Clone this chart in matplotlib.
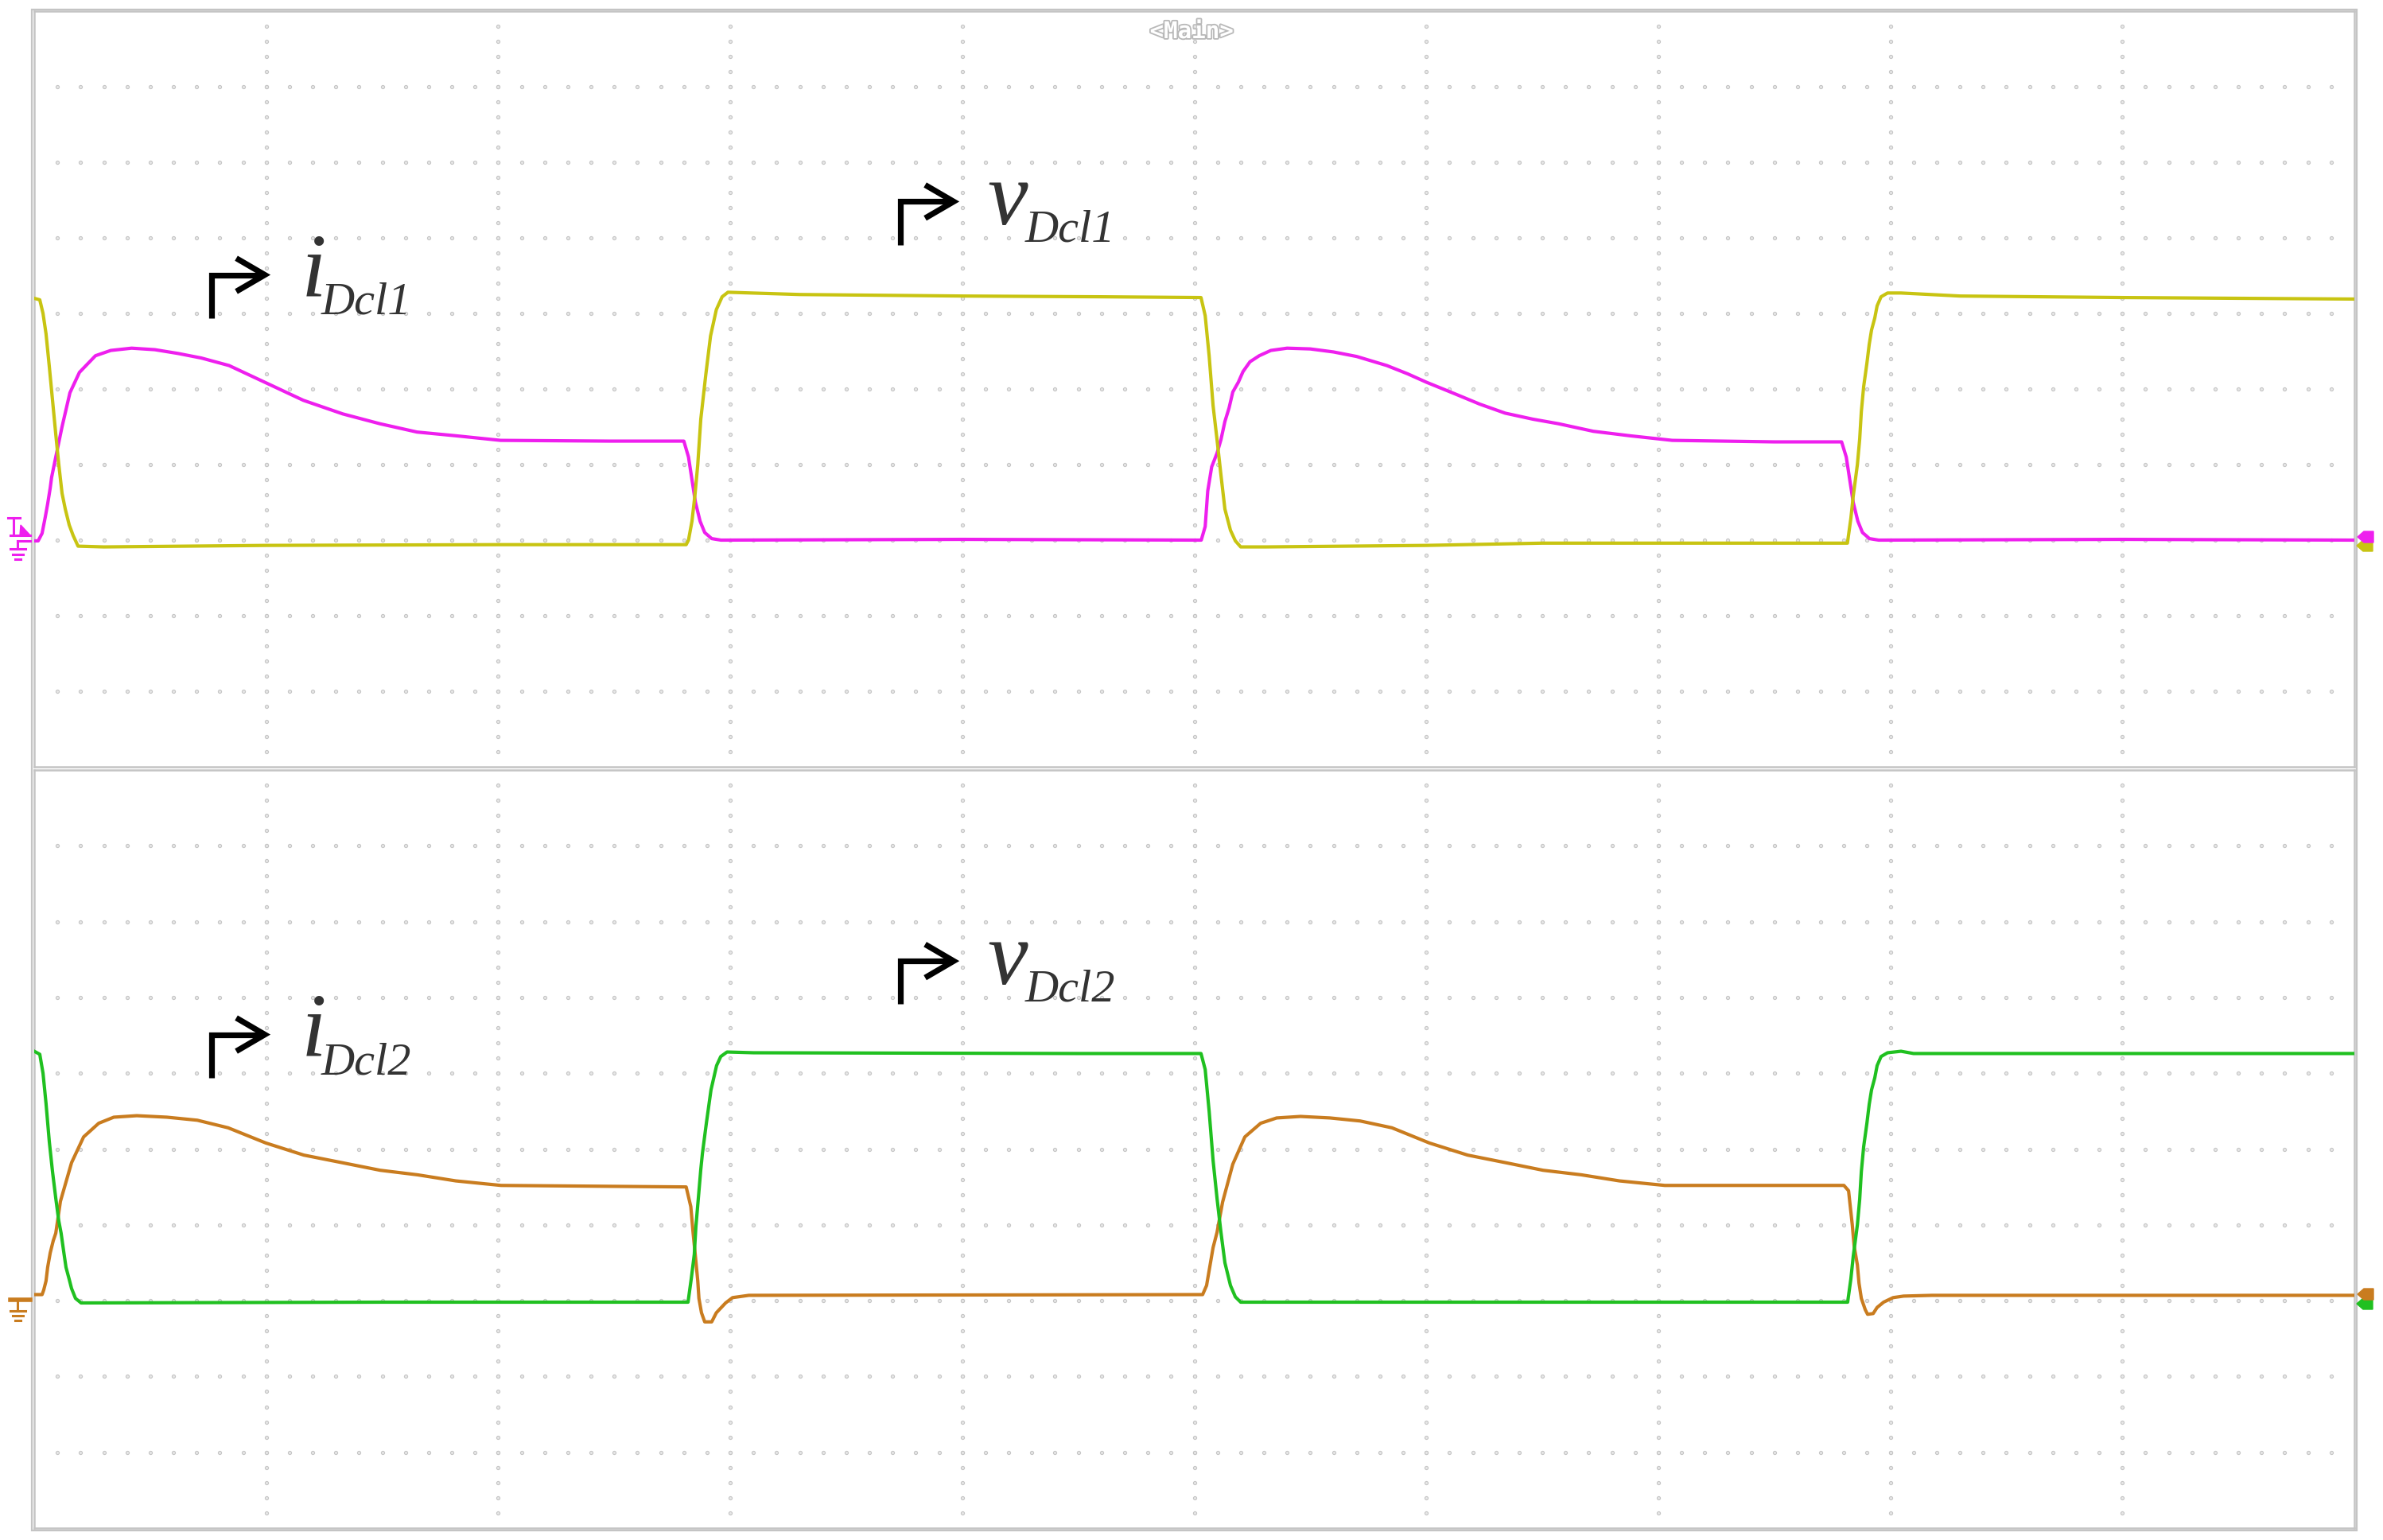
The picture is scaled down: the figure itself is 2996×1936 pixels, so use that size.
import numpy as np
import matplotlib.pyplot as plt
from matplotlib.patches import Polygon, Rectangle
import matplotlib.patheffects as pe

W, H, DPI = 2996, 1936, 100

# scope panes on screen (pixels: left, top, right, bottom)
TOP_PANE = (43, 14, 2960, 964)
BOT_PANE = (43, 968, 2960, 1921)

#%% data, in screen divisions (x: 0..10, y: 0..10 per pane)
# top pane: v_Dcl1 (yellow)
v1_t = [0.0, 0.024, 0.038, 0.051, 0.065, 0.079, 0.093, 0.106, 0.120, 0.134, 0.151, 0.168, 0.189, 0.30, 1.0, 2.0, 2.81,
        2.82, 2.835, 2.848, 2.86, 2.873, 2.895, 2.915, 2.94, 2.965, 2.99, 3.3, 4.0, 4.6, 5.029,
        5.047, 5.064, 5.081, 5.098, 5.115, 5.132, 5.156, 5.177, 5.20, 5.31, 6.0, 6.5, 7.3, 7.815,
        7.830, 7.840, 7.858, 7.868, 7.875, 7.885, 7.899, 7.909, 7.919, 7.933, 7.943, 7.960, 7.988, 8.046, 8.3, 9.0, 10.0]
v1_y = [6.20, 6.18, 6.00, 5.73, 5.30, 4.85, 4.40, 4.00, 3.62, 3.41, 3.20, 3.06, 2.92, 2.91, 2.93, 2.94, 2.94,
        3.00, 3.25, 3.60, 4.00, 4.60, 5.20, 5.70, 6.05, 6.22, 6.28, 6.25, 6.23, 6.22, 6.21,
        5.97, 5.44, 4.78, 4.33, 3.86, 3.41, 3.13, 2.99, 2.91, 2.91, 2.93, 2.96, 2.96, 2.96,
        3.29, 3.58, 4.00, 4.34, 4.70, 5.03, 5.34, 5.59, 5.78, 5.94, 6.10, 6.22, 6.27, 6.27, 6.23, 6.21, 6.19]

# top pane: i_Dcl1 (magenta)
i1_t = [0.0, 0.017, 0.034, 0.048, 0.058, 0.069, 0.075, 0.093, 0.120, 0.154, 0.195, 0.264, 0.33, 0.42, 0.52, 0.62,
        0.72, 0.84, 1.00, 1.16, 1.33, 1.49, 1.65, 1.82, 2.01, 2.48, 2.80,
        2.82, 2.835, 2.85, 2.87, 2.89, 2.92, 2.96, 4.0, 5.03,
        5.047, 5.058, 5.075, 5.098, 5.115, 5.132, 5.15, 5.166, 5.19, 5.21, 5.24, 5.28, 5.33, 5.40, 5.50, 5.60,
        5.70, 5.83, 5.92, 6.00, 6.12, 6.23, 6.34, 6.46, 6.57, 6.72, 6.88, 7.06, 7.50, 7.79,
        7.81, 7.825, 7.84, 7.86, 7.88, 7.91, 7.95, 9.0, 10.0]
i1_y = [2.99, 2.99, 3.09, 3.31, 3.48, 3.69, 3.83, 4.10, 4.50, 4.95, 5.22, 5.44, 5.51, 5.54, 5.52, 5.47,
        5.41, 5.31, 5.08, 4.85, 4.67, 4.54, 4.43, 4.38, 4.32, 4.31, 4.31,
        4.10, 3.80, 3.50, 3.25, 3.10, 3.02, 3.00, 3.01, 3.00,
        3.18, 3.65, 3.97, 4.15, 4.33, 4.57, 4.75, 4.96, 5.09, 5.23, 5.36, 5.44, 5.51, 5.54, 5.53, 5.49,
        5.43, 5.31, 5.20, 5.09, 4.94, 4.80, 4.68, 4.60, 4.54, 4.44, 4.38, 4.32, 4.30, 4.30,
        4.10, 3.80, 3.50, 3.25, 3.10, 3.02, 3.00, 3.01, 3.00]

# bottom pane: v_Dcl2 (green)
v2_t = [0.0, 0.024, 0.038, 0.051, 0.065, 0.079, 0.093, 0.106, 0.116, 0.127, 0.137, 0.151, 0.161, 0.178, 0.202, 1.5, 2.818,
        2.832, 2.845, 2.852, 2.863, 2.873, 2.880, 2.897, 2.917, 2.941, 2.959, 2.986, 3.10, 4.5, 5.029,
        5.047, 5.064, 5.081, 5.098, 5.115, 5.132, 5.156, 5.177, 5.20, 6.5, 7.816,
        7.830, 7.840, 7.858, 7.868, 7.875, 7.885, 7.899, 7.909, 7.919, 7.933, 7.943, 7.960, 7.988, 8.046, 8.10, 10.0]
v2_y = [6.29, 6.25, 6.00, 5.60, 5.10, 4.70, 4.35, 4.05, 3.89, 3.65, 3.44, 3.28, 3.16, 3.03, 2.97, 2.98, 2.98,
        3.29, 3.61, 3.98, 4.37, 4.73, 4.94, 5.34, 5.78, 6.10, 6.22, 6.28, 6.27, 6.26, 6.26,
        6.05, 5.50, 4.85, 4.35, 3.90, 3.50, 3.20, 3.05, 2.98, 2.98, 2.98,
        3.29, 3.58, 4.00, 4.34, 4.70, 5.03, 5.34, 5.59, 5.78, 5.94, 6.10, 6.22, 6.27, 6.29, 6.26, 6.26]

# bottom pane: i_Dcl2 (orange)
i2_t = [0.0, 0.034, 0.041, 0.051, 0.058, 0.069, 0.082, 0.093, 0.113, 0.161, 0.213, 0.278, 0.343, 0.442, 0.572,
        0.703, 0.836, 0.998, 1.162, 1.327, 1.491, 1.652, 1.817, 2.012, 2.81,
        2.83, 2.84, 2.85, 2.86, 2.865, 2.876, 2.89, 2.92, 2.94, 2.98, 3.01, 3.08, 5.036,
        5.053, 5.067, 5.081, 5.098, 5.122, 5.166, 5.218, 5.286, 5.355, 5.458, 5.585, 5.715, 5.852, 6.013,
        6.178, 6.342, 6.503, 6.668, 6.832, 7.028, 7.80,
        7.82, 7.826, 7.836, 7.844, 7.858, 7.865, 7.875, 7.892, 7.902, 7.926, 7.943, 7.971, 8.012, 8.057, 8.18, 10.0]
i2_y = [3.08, 3.08, 3.14, 3.26, 3.44, 3.63, 3.79, 3.89, 4.31, 4.82, 5.16, 5.34, 5.42, 5.44, 5.42,
        5.38, 5.28, 5.08, 4.92, 4.82, 4.72, 4.66, 4.58, 4.52, 4.50,
        4.24, 3.89, 3.58, 3.26, 3.03, 2.84, 2.72, 2.72, 2.84, 2.97, 3.04, 3.07, 3.08,
        3.20, 3.45, 3.70, 3.90, 4.30, 4.80, 5.16, 5.34, 5.41, 5.43, 5.41, 5.37, 5.28, 5.08,
        4.92, 4.82, 4.72, 4.66, 4.58, 4.52, 4.52,
        4.45, 4.28, 4.00, 3.72, 3.47, 3.23, 3.03, 2.88, 2.82, 2.83, 2.91, 2.98, 3.04, 3.06, 3.07, 3.07]

YELLOW = '#c8c412'
MAGENTA = '#ee1fee'
GREEN = '#20c020'
ORANGE = '#c97c1f'
GRID = '#c6c6c6'
FRAME = '#c4c4c4'
INK = '#333333'

fig = plt.figure(figsize=(W / DPI, H / DPI), dpi=DPI)

# full-screen overlay in pixel coords for the scope decorations
deco = fig.add_axes([0, 0, 1, 1])
deco.set_xlim(0, W)
deco.set_ylim(H, 0)
deco.axis('off')
deco.add_patch(Rectangle((40, 12), 2923, 1912, fill=False, ec=FRAME, lw=1.6))


def make_pane(box):
    x0, y0, x1, y1 = box
    ax = fig.add_axes([x0 / W, 1 - y1 / H, (x1 - x0) / W, (y1 - y0) / H])
    ax.set_xlim(0, 10)
    ax.set_ylim(0, 10)
    ax.set_xticks([])
    ax.set_yticks([])
    ax.patch.set_alpha(0)
    for s in ax.spines.values():
        s.set_color(FRAME)
        s.set_linewidth(1.8)
    # dotted graticule: 10 minor steps along rows, 5 along columns
    gx = np.arange(1, 100) / 10
    gy = np.arange(1, 10)
    ax.scatter(np.tile(gx, len(gy)), np.repeat(gy, len(gx)), s=9, facecolor='#e6e6e6',
               edgecolor=GRID, linewidth=0.8, zorder=1)
    cx = np.arange(1, 10)
    cy = np.arange(1, 50) / 5
    ax.scatter(np.repeat(cx, len(cy)), np.tile(cy, len(cx)), s=9, facecolor='#e6e6e6',
               edgecolor=GRID, linewidth=0.8, zorder=1)
    return ax


def tag(ax, sx, sy0, sy1, tip, letter, sub, lx, ly, subx, suby):
    # bent arrow plus italic label
    ax.plot([sx, sx, tip - 0.02], [sy0, sy1, sy1], color='black', lw=5.2,
            solid_joinstyle='miter', solid_capstyle='butt', zorder=5)
    ax.plot([tip - 0.123, tip, tip - 0.123], [sy1 + 0.22, sy1, sy1 - 0.22], color='black', lw=5.2,
            solid_joinstyle='miter', solid_capstyle='butt', zorder=5)
    ax.text(lx, ly, letter, fontsize=82, family='Liberation Serif', style='italic',
            color=INK, va='baseline', ha='left', zorder=5)
    ax.text(subx, suby, sub, fontsize=42, family='Liberation Serif', style='italic',
            color=INK, va='baseline', ha='left', zorder=5)


top = make_pane(TOP_PANE)
bot = make_pane(BOT_PANE)

top.plot(i1_t, i1_y, color=MAGENTA, lw=3.0, zorder=3)
top.plot(v1_t, v1_y, color=YELLOW, lw=3.0, zorder=3)
bot.plot(i2_t, i2_y, color=ORANGE, lw=3.0, zorder=3)
bot.plot(v2_t, v2_y, color=GREEN, lw=3.0, zorder=3)

for ax, n in [(top, '1'), (bot, '2')]:
    tag(ax, 0.765, 5.94, 6.51, 0.994, 'i', 'Dcl' + n, 1.152, 6.23, 1.238, 5.99)
    tag(ax, 3.733, 6.91, 7.48, 3.963, 'v', 'Dcl' + n, 4.11, 7.18, 4.27, 6.95)

# <Main> tag at top
deco.text(1498, 40, '<Main>', fontsize=21, family='DejaVu Sans Mono', weight='bold',
          color='white', ha='center', va='center',
          path_effects=[pe.withStroke(linewidth=2.6, foreground='#b8b8b8')])

# left side: trigger + ground marker (ch1), ground marker (ch2)
deco.plot([10, 25], [651, 651], color=MAGENTA, lw=2.2)
deco.plot([17, 17], [651, 671], color=MAGENTA, lw=2.2)
deco.add_patch(Polygon([(26, 660), (38, 673), (25, 673)], closed=True, color=MAGENTA))
deco.plot([13, 38], [673, 673], color=MAGENTA, lw=2.2)
deco.plot([22, 38], [680, 680], color=MAGENTA, lw=2.2)
deco.plot([22, 22], [680, 690], color=MAGENTA, lw=2.2)
deco.plot([13, 32], [690, 690], color=MAGENTA, lw=2.2)
deco.plot([16, 29], [697, 697], color=MAGENTA, lw=2.2)
deco.plot([19, 26], [703, 703], color=MAGENTA, lw=2.2)

deco.plot([13, 38], [1634, 1634], color=ORANGE, lw=4)
deco.plot([22, 22], [1634, 1648], color=ORANGE, lw=2.2)
deco.plot([13, 32], [1648, 1648], color=ORANGE, lw=2.2)
deco.plot([16, 29], [1654, 1654], color=ORANGE, lw=2.2)
deco.plot([19, 26], [1660, 1660], color=ORANGE, lw=2.2)


# right side offset markers
def offset_marker(yc, color, dx=0):
    deco.add_patch(Polygon([(2964 + dx, yc), (2972 + dx, yc - 7), (2984 + dx, yc - 7),
                            (2984 + dx, yc + 7), (2972 + dx, yc + 7)], closed=True, color=color))


offset_marker(686, YELLOW, dx=-1)
offset_marker(675, MAGENTA)
offset_marker(1639, GREEN, dx=-1)
offset_marker(1627, ORANGE)

fig.savefig('out.png', dpi=DPI)
